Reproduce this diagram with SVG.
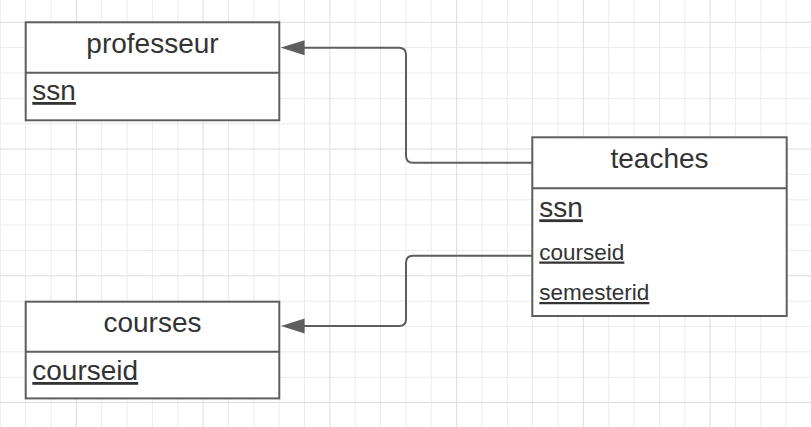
<svg xmlns="http://www.w3.org/2000/svg" width="811" height="427" viewBox="0 0 811 427">
<defs>
<style>
.minor{stroke:#ebebeb;stroke-width:1;fill:none}
.major{stroke:#dcdcdc;stroke-width:1;fill:none}
.box{fill:#ffffff;stroke:#5e5e5e;stroke-width:2}
.div{stroke:#5e5e5e;stroke-width:2}
.title{font-family:"Liberation Sans",Arial,sans-serif;font-size:28px;fill:#333333;text-anchor:middle}
.attr{font-family:"Liberation Sans",Arial,sans-serif;font-size:28px;fill:#333333;text-decoration:underline}
.attr.sm{font-size:22.5px}
.conn{fill:none;stroke:#5e5e5e;stroke-width:2}
</style>
<marker id="arrow" markerUnits="userSpaceOnUse" markerWidth="24" markerHeight="16" viewBox="0 0 23 14.4" refX="14" refY="7.2" orient="auto">
<path d="M0,0 L23,7.2 L0,14.4 Z" fill="#5e5e5e"/>
</marker>
</defs>
<rect width="811" height="427" fill="#ffffff"/>
<g id="grid">
<path class="minor" d="M0.3,0V427M25.65,0V427M51,0V427M101.7,0V427M127.05,0V427M152.4,0V427M177.75,0V427M228.45,0V427M253.8,0V427M279.15,0V427M304.5,0V427M355.2,0V427M380.55,0V427M405.9,0V427M431.25,0V427M481.95,0V427M507.3,0V427M532.65,0V427M558,0V427M608.7,0V427M634.05,0V427M659.4,0V427M684.75,0V427M735.45,0V427M760.8,0V427M786.15,0V427"/>
<path class="minor" d="M0,47.65H811M0,73H811M0,98.35H811M0,123.7H811M0,174.4H811M0,199.75H811M0,225.1H811M0,250.45H811M0,301.15H811M0,326.5H811M0,351.85H811M0,377.2H811"/>
<path class="major" d="M76.35,0V427M203.1,0V427M329.85,0V427M456.6,0V427M583.35,0V427M710.1,0V427M0,22.3H811M0,149.05H811M0,275.8H811M0,402.55H811"/>
</g>
<g id="connectors">
<path class="conn" d="M532.3,162.7H413Q406,162.7 406,155.7V54.7Q406,47.7 399,47.7H290" marker-end="url(#arrow)"/>
<path class="conn" d="M532.3,255.7H413Q406,255.7 406,262.7V319Q406,326 399,326H290" marker-end="url(#arrow)"/>
</g>
<g id="professeur">
<rect class="box" x="25.7" y="22.3" width="253.6" height="98"/>
<line class="div" x1="25.7" y1="72.7" x2="279.3" y2="72.7"/>
<text class="title" x="152.5" y="53.3">professeur</text>
<text class="attr" x="32.3" y="100">ssn</text>
</g>
<g id="teaches">
<rect class="box" x="532.3" y="137.3" width="254.4" height="178.7"/>
<line class="div" x1="532.3" y1="188.3" x2="786.7" y2="188.3"/>
<text class="title" x="659.5" y="168.3">teaches</text>
<text class="attr" x="539.3" y="217.3">ssn</text>
<text class="attr sm" x="539.3" y="259.5">courseid</text>
<text class="attr sm" x="539.3" y="300">semesterid</text>
</g>
<g id="courses">
<rect class="box" x="25.7" y="301.7" width="253.6" height="96.7"/>
<line class="div" x1="25.7" y1="351.7" x2="279.3" y2="351.7"/>
<text class="title" x="152.5" y="331.7">courses</text>
<text class="attr" x="32.3" y="380">courseid</text>
</g>
</svg>
